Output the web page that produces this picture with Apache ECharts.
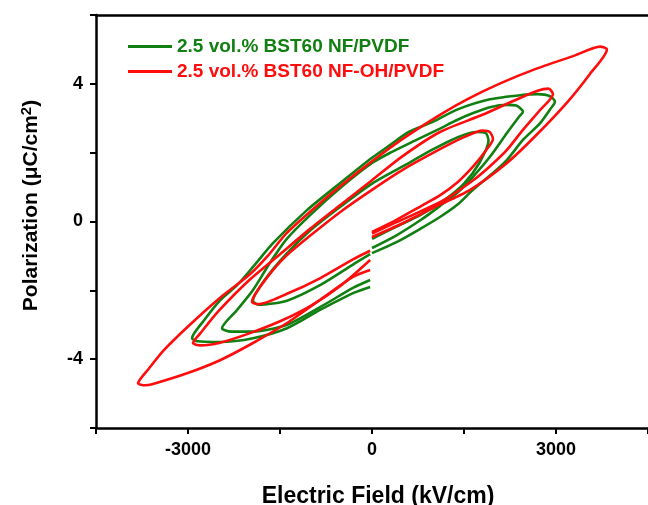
<!DOCTYPE html>
<html>
<head>
<meta charset="utf-8">
<script src="https://cdn.jsdelivr.net/npm/echarts@6/dist/echarts.min.js"></script>
<style>
  html, body { margin: 0; padding: 0; background: #fff; }
  #main { width: 648px; height: 505px; }
</style>
</head>
<body>
<div id="main"></div>
<script>
// series names
var nameNF = '2.5 vol.% BST60 NF/PVDF';
var nameOH = '2.5 vol.% BST60 NF-OH/PVDF';

// tick labels shown
var xLabels = [-3000, 0, 3000];
var yLabels = [-4, 0, 4];

// [E (kV/cm), P (uC/cm2)] -- each loop: start at E=0, up to +Emax, back to -Emax, back to E=0
var greenLoop1 = [
  [0, -0.5], [400, -0.15], [800, 0.2], [1200, 0.65], [1500, 1.1], [1750, 1.7], [1900, 2.35],
  [1850, 2.58], [1700, 2.6], [1400, 2.45], [1000, 2.1], [500, 1.6], [0, 1.1], [-500, 0.45],
  [-1000, -0.25], [-1400, -0.95], [-1750, -1.7], [-1940, -2.3],
  [-1850, -2.42], [-1386, -2.3], [-848, -1.85], [-310, -1.25], [-30, -0.95]
];
var greenLoop2 = [
  [0, -0.77], [400, -0.4], [800, 0.05], [1108, 0.45], [1386, 0.83], [1646, 1.3], [1923, 1.88],
  [2200, 2.57], [2400, 3.05], [2461, 3.19],
  [2350, 3.37], [2200, 3.39], [1923, 3.32], [1650, 3.15], [1386, 2.95], [1108, 2.7], [700, 2.35],
  [300, 2.0], [0, 1.7], [-500, 1.0], [-1000, 0.2], [-1386, -0.5], [-1663, -1.2], [-1940, -1.99],
  [-2200, -2.57], [-2445, -3.1],
  [-2300, -3.2], [-1940, -3.2], [-1386, -3.0], [-848, -2.49], [-310, -1.93], [-30, -1.7]
];
var greenLoop3 = [
  [0, -0.92], [400, -0.6], [800, -0.2], [1108, 0.13], [1400, 0.5], [1646, 0.92], [2000, 1.45],
  [2201, 1.79], [2461, 2.37], [2738, 2.85], [2900, 3.25], [2983, 3.48],
  [2900, 3.64], [2700, 3.7], [2461, 3.68], [1923, 3.55], [1386, 3.25], [1000, 2.9], [600, 2.6],
  [293, 2.22], [0, 1.85], [-522, 1.11], [-1060, 0.33], [-1614, -0.63], [-1940, -1.32],
  [-2200, -1.85], [-2478, -2.29], [-2750, -2.9], [-2934, -3.39],
  [-2850, -3.48], [-2478, -3.5], [-1940, -3.39], [-1386, -3.1], [-848, -2.57], [-310, -2.08], [-30, -1.9]
];
var redLoop1 = [
  [0, -0.3], [400, 0.05], [800, 0.45], [1100, 0.75], [1400, 1.15], [1650, 1.6], [1850, 2.05], [1972, 2.4],
  [1920, 2.6], [1800, 2.64], [1500, 2.45], [1108, 2.1], [500, 1.5], [0, 0.92], [-500, 0.3],
  [-1000, -0.4], [-1400, -1.0], [-1700, -1.6], [-1900, -2.1], [-1956, -2.34],
  [-1850, -2.4], [-1386, -2.1], [-848, -1.65], [-310, -1.1], [-30, -0.85]
];
var redLoop2 = [
  [0, -0.35], [400, -0.02], [800, 0.3], [1200, 0.65], [1650, 1.2], [1920, 1.6], [2200, 2.08],
  [2460, 2.66], [2740, 3.24], [2950, 3.7],
  [2880, 3.86], [2700, 3.8], [2300, 3.5], [1800, 3.1], [1108, 2.6], [500, 1.9], [0, 1.2],
  [-500, 0.5], [-1000, -0.2], [-1500, -0.95], [-2000, -1.7], [-2500, -2.6], [-2800, -3.25], [-2918, -3.53],
  [-2800, -3.6], [-2478, -3.52], [-2000, -3.25], [-1500, -2.9], [-1000, -2.45], [-500, -1.85], [-30, -1.12]
];
var redLoop3 = [
  [0, -0.45], [500, -0.05], [1000, 0.4], [1600, 0.92], [2200, 1.7], [2700, 2.55], [3200, 3.5],
  [3550, 4.28], [3830, 5.0],
  [3720, 5.08], [3300, 4.82], [2650, 4.42], [2100, 4.02], [1550, 3.55], [1108, 3.1], [500, 2.4],
  [0, 1.75], [-500, 1.05], [-1000, 0.3], [-1400, -0.35], [-1700, -1.0], [-2000, -1.55],
  [-2500, -2.25], [-3000, -3.05], [-3400, -3.75], [-3650, -4.3], [-3814, -4.7],
  [-3700, -4.76], [-3570, -4.72], [-3016, -4.41], [-2478, -4.03], [-1940, -3.53], [-1386, -2.95],
  [-848, -2.28], [-310, -1.61], [-30, -1.41]
];

var green = '#117f11';
var red = '#ff0d0d';

function loop(name, data, color) {
  return {
    name: name,
    type: 'line',
    data: data,
    smooth: 0.25,
    symbol: 'none',
    lineStyle: { color: color, width: 2.6 },
    itemStyle: { color: color }
  };
}

var chart = echarts.init(document.getElementById('main'));
var fnt = 'Liberation Sans, Arial, sans-serif';

chart.setOption({
  animation: false,
  grid: { left: 96, right: 0, top: 15, bottom: 77, outerBoundsMode: 'none', containLabel: false },
  legend: {
    left: 128, top: 37, orient: 'vertical', padding: 0,
    icon: 'rect', itemWidth: 44, itemHeight: 3, itemGap: 6,
    textStyle: { fontFamily: fnt, fontWeight: 'bold', fontSize: 19, lineHeight: 19 },
    data: [
      { name: nameNF, textStyle: { color: green } },
      { name: nameOH, textStyle: { color: red } }
    ]
  },
  xAxis: [{
    type: 'value', min: -4500, max: 4500, interval: 1500,
    splitLine: { show: false },
    axisLine: { onZero: false, lineStyle: { color: '#000', width: 2.5 } },
    axisTick: { inside: false, length: 6, lineStyle: { color: '#000', width: 2 } },
    axisLabel: {
      margin: 13, color: '#000', fontFamily: fnt, fontWeight: 'bold', fontSize: 18,
      formatter: function (v) { return xLabels.indexOf(v) >= 0 ? String(v) : ''; }
    },
    name: 'Electric Field (kV/cm)', nameLocation: 'middle', nameGap: 57,
    nameTextStyle: { color: '#000', fontFamily: fnt, fontWeight: 'bold', fontSize: 23, padding: [0, 0, 0, 12] }
  }, {
    type: 'value', position: 'top', min: -4500, max: 4500,
    splitLine: { show: false }, axisTick: { show: false }, axisLabel: { show: false },
    axisLine: { onZero: false, lineStyle: { color: '#000', width: 2.5 } }
  }],
  yAxis: {
    type: 'value', min: -6, max: 6, interval: 2,
    splitLine: { show: false },
    axisLine: { onZero: false, lineStyle: { color: '#000', width: 2.5 } },
    axisTick: { inside: false, length: 6, lineStyle: { color: '#000', width: 2 } },
    axisLabel: {
      margin: 13, color: '#000', fontFamily: fnt, fontWeight: 'bold', fontSize: 18,
      formatter: function (v) { return yLabels.indexOf(v) >= 0 ? String(v) : ''; }
    },
    name: '{a|Polarization (μC/cm}{s|2}{a|)}', nameLocation: 'middle', nameGap: 52, nameRotate: 90,
    nameTextStyle: {
      padding: [0, 0, 0, 32],
      rich: {
        a: { color: '#000', fontFamily: fnt, fontWeight: 'bold', fontSize: 21 },
        s: { color: '#000', fontFamily: fnt, fontWeight: 'bold', fontSize: 15, verticalAlign: 'top', padding: [0, 0, 10, 0] }
      }
    }
  },
  series: [
    loop(nameNF, greenLoop1, green),
    loop(nameNF, greenLoop2, green),
    loop(nameNF, greenLoop3, green),
    loop(nameOH, redLoop1, red),
    loop(nameOH, redLoop2, red),
    loop(nameOH, redLoop3, red)
  ]
});
</script>
</body>
</html>
